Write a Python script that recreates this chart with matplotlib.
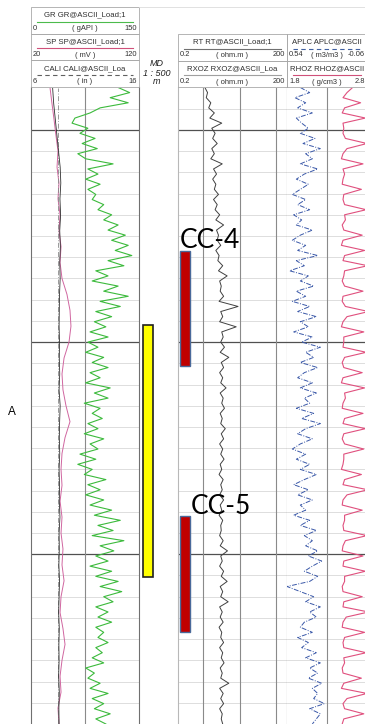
import numpy as np
import matplotlib
matplotlib.use("Agg")
import matplotlib.pyplot as plt
from matplotlib.patches import Rectangle

plt.rcParams["font.family"] = ["Liberation Sans", "DejaVu Sans"]

W, H = 365, 724  # output size in pixels

# depth window (m), MD 1:500
top_depth, base_depth = 2490.0, 2640.0
major_depths = [2500.0, 2550.0, 2600.0]
minor_step = 5.0

# track 1 curves
gr = [121, 137, 110, 135, 96, 82, 61, 57, 79, 68,
      89, 71, 92, 65, 76, 114, 79, 93, 76, 96,
      79, 90, 85, 101, 93, 112, 101, 121, 107, 131,
      112, 135, 117, 140, 107, 129, 90, 107, 85, 121,
      101, 135, 96, 124, 90, 112, 88, 104, 82, 107,
      79, 93, 76, 101, 85, 107, 82, 96, 76, 110,
      88, 107, 74, 96, 85, 99, 79, 93, 74, 101,
      82, 93, 68, 90, 65, 85, 74, 104, 79, 96,
      76, 101, 82, 112, 88, 124, 93, 114, 85, 129,
      96, 115, 90, 107, 82, 112, 90, 121, 96, 126,
      101, 114, 90, 107, 93, 112, 90, 101, 93, 107,
      90, 99, 85, 101, 76, 88, 79, 96, 82, 107,
      85, 101, 88, 110, 90, 104]
sp = [37.6, 39.4, 41.3, 43.1, 45.0, 44.1, 45.9, 45.0, 46.9, 45.9,
      47.8, 46.9, 48.7, 53.3, 56.1, 57.0, 55.2, 50.6, 48.7, 49.6,
      52.4, 56.1, 51.5, 48.7, 47.8, 48.7, 46.9, 48.7, 47.8, 49.6,
      48.7, 50.6, 47.8, 46.9, 49.6, 51.5, 48.7, 46.9, 47.8, 45.0, 45.9]
cali = [8.0, 8.1, 8.25, 8.4, 8.55, 8.7, 8.76, 8.68, 8.74, 8.66,
        8.72, 8.66, 8.70, 8.64, 8.62, 8.60, 8.64, 8.62, 8.66, 8.60,
        8.70, 8.65, 8.62, 8.66, 8.60, 8.64, 8.62, 8.68, 8.60, 8.62,
        8.58, 8.64, 8.60, 8.56, 8.62, 8.58, 8.60, 8.56, 8.62, 8.58, 8.60]
bit_size = 8.5

# track 2
rt = [1.1, 1.3, 1.2, 1.6, 1.4, 2.0, 1.5, 3.2, 1.7, 2.1,
      1.8, 2.4, 1.7, 2.0, 1.6, 3.3, 1.9, 2.3, 1.8, 2.2,
      2.0, 2.6, 1.9, 2.4, 2.1, 2.8, 2.2, 3.6, 2.3, 2.6,
      2.4, 3.0, 2.2, 2.7, 2.5, 3.4, 2.6, 4.5, 2.8, 3.1,
      2.9, 3.6, 2.7, 9.0, 3.0, 3.4, 2.8, 8.0, 3.2, 3.5,
      3.0, 3.8, 2.9, 5.0, 3.1, 3.6, 2.8, 3.4, 3.0, 4.2,
      2.9, 3.5, 3.2, 3.8, 2.9, 3.3, 3.0, 4.0, 3.1, 3.6,
      2.8, 3.4, 3.0, 3.7, 2.9, 3.2, 2.7, 3.5, 3.0, 3.3,
      2.8, 3.6, 2.9, 3.2, 2.7, 3.4, 3.0, 3.1, 2.8, 3.5,
      2.9, 4.6, 3.0, 3.3, 2.8, 3.6, 3.1, 4.5, 2.9, 3.4,
      3.0, 4.8, 2.8, 3.3, 2.9, 3.5, 2.7, 3.2, 3.0, 3.6,
      2.8, 3.4, 3.1, 3.7, 2.9, 3.3, 3.0, 5.0, 2.8, 3.5,
      3.0, 3.6, 2.8, 3.3, 3.1, 3.4]

# track 3
aplc = [0.44, 0.37, 0.48, 0.40, 0.46, 0.35, 0.47, 0.43, 0.38, 0.44,
        0.33, 0.42, 0.29, 0.40, 0.35, 0.44, 0.31, 0.41, 0.47, 0.38,
        0.44, 0.50, 0.40, 0.46, 0.37, 0.49, 0.43, 0.47, 0.35, 0.44,
        0.50, 0.40, 0.46, 0.31, 0.47, 0.41, 0.52, 0.38, 0.44, 0.34,
        0.47, 0.40, 0.50, 0.37, 0.46, 0.32, 0.44, 0.38, 0.49, 0.35,
        0.43, 0.29, 0.40, 0.34, 0.44, 0.31, 0.41, 0.46, 0.35, 0.44,
        0.32, 0.41, 0.37, 0.47, 0.34, 0.43, 0.29, 0.40, 0.46, 0.35,
        0.44, 0.50, 0.40, 0.47, 0.37, 0.44, 0.32, 0.41, 0.49, 0.38,
        0.46, 0.35, 0.44, 0.40, 0.49, 0.37, 0.44, 0.32, 0.41, 0.35,
        0.40, 0.31, 0.38, 0.28, 0.35, 0.41, 0.31, 0.37, 0.54, 0.44,
        0.34, 0.40, 0.29, 0.37, 0.32, 0.41, 0.44, 0.35, 0.46, 0.38,
        0.43, 0.32, 0.40, 0.29, 0.37, 0.31, 0.38, 0.28, 0.35, 0.31,
        0.34, 0.26, 0.37, 0.29, 0.32, 0.35]
rhoz = [2.62, 2.55, 2.50, 2.72, 2.52, 2.49, 2.78, 2.50, 2.51, 2.50,
        2.53, 2.80, 2.55, 2.50, 2.48, 2.75, 2.50, 2.52, 2.50, 2.49,
        2.73, 2.51, 2.50, 2.52, 2.79, 2.52, 2.53, 2.49, 2.51, 2.74,
        2.50, 2.48, 2.77, 2.52, 2.50, 2.81, 2.52, 2.51, 2.49, 2.52,
        2.75, 2.50, 2.49, 2.53, 2.82, 2.55, 2.50, 2.48, 2.76, 2.51,
        2.51, 2.50, 2.79, 2.52, 2.49, 2.51, 2.74, 2.50, 2.48, 2.77,
        2.52, 2.53, 2.50, 2.49, 2.75, 2.52, 2.50, 2.78, 2.51, 2.49,
        2.52, 2.76, 2.51, 2.51, 2.50, 2.48, 2.73, 2.52, 2.50, 2.81,
        2.55, 2.50, 2.49, 2.74, 2.52, 2.52, 2.50, 2.51, 2.80, 2.53,
        2.50, 2.49, 2.75, 2.51, 2.50, 2.78, 2.52, 2.52, 2.49, 2.50,
        2.74, 2.51, 2.50, 2.82, 2.54, 2.50, 2.49, 2.77, 2.52, 2.50,
        2.51, 2.79, 2.51, 2.52, 2.49, 2.50, 2.73, 2.51, 2.48, 2.80,
        2.55, 2.50, 2.52, 2.76, 2.51, 2.49]

# zone and cored intervals
zone_name = "A"
zone_top, zone_base = 2546.0, 2605.4
core_names = ["CC-4", "CC-5"]
core_tops = [2528.5, 2591.0]
core_bases = [2555.7, 2618.4]

# header text
track1_header = [("GR GR@ASCII_Load;1", "0", "( gAPI )", "150", "#4cbb4c", "-"),
                 ("SP SP@ASCII_Load;1", "20", "( mV )", "120", "#d0507a", "-"),
                 ("CALI CALI@ASCII_Loa", "6", "( in )", "16", "#606060", (0, (4, 3)))]
track2_header = [("RT RT@ASCII_Load;1", "0.2", "( ohm.m )", "200", "#707070", "-"),
                 ("RXOZ RXOZ@ASCII_Loa", "0.2", "( ohm.m )", "200", "#a0a0a0", "-")]
track3_header = [("APLC APLC@ASCII", "0.54", "( m3/m3 )", "-0.06", "#4060a0", (0, (4, 3))),
                 ("RHOZ RHOZ@ASCII", "1.8", "( g/cm3 )", "2.8", "#d0507a", "-")]

MINOR_C, MAJOR_C, BORDER_C = "#d8d8d8", "#505050", "#707070"


def rect(x0, y0, x1, y1):
    return [x0 / W, 1 - y1 / H, (x1 - x0) / W, (y1 - y0) / H]


def depths(values):
    return np.linspace(top_depth, base_depth, len(values))


def track(x0, x1, data_top=87.5):
    ax = fig.add_axes(rect(x0, data_top, x1, H))
    ax.set_ylim(base_depth, top_depth)
    ax.set_yticks(major_depths)
    ax.set_yticks(np.arange(top_depth, base_depth + 0.1, minor_step), minor=True)
    ax.grid(axis="y", which="minor", color=MINOR_C, lw=0.6)
    ax.grid(axis="y", which="major", color=MAJOR_C, lw=0.9)
    ax.set_axisbelow(True)
    ax.tick_params(which="both", length=0, labelleft=False, labelbottom=False)
    for s in ax.spines.values():
        s.set_visible(False)
    return ax


def overlay(ax, xlim, xscale="linear"):
    tw = ax.twiny()
    tw.set_xscale(xscale)
    tw.set_xlim(*xlim)
    tw.set_ylim(base_depth, top_depth)
    tw.axis("off")
    return tw


fig = plt.figure(figsize=(W / 100, H / 100), dpi=100)

# track 1: GR / SP / CALI
ax1 = track(31, 139)
ax1.set_xlim(0, 150)
ax1.axvline(75, color="#8a8a8a", lw=0.8, zorder=1)
for side in ("left", "right"):
    ax1.spines[side].set_visible(True)
    ax1.spines[side].set_color(BORDER_C)
    ax1.spines[side].set_linewidth(0.8)
ax1.plot(gr, depths(gr), color="#3cba3c", lw=0.8)
ax_sp = overlay(ax1, (20, 120))
ax_sp.plot(sp, depths(sp), color="#d066a0", lw=0.7)
ax_cali = overlay(ax1, (6, 16))
ax_cali.axvline(bit_size, color="#8a8a8a", lw=0.6, ls=(0, (6, 2, 1, 2)))
ax_cali.plot(cali, depths(cali), color="#303030", lw=0.6)

# track 2: resistivity
ax2 = track(178, 287)
ax2.set_xscale("log")
ax2.set_xlim(0.2, 200)
for v in (1, 10, 100):
    ax2.axvline(v, color="#8a8a8a", lw=0.8, zorder=1)
ax2.spines["left"].set_visible(True)
ax2.spines["left"].set_color("#b8b8b8")
ax2.spines["right"].set_visible(True)
ax2.spines["right"].set_color(BORDER_C)
ax2.spines["right"].set_linewidth(0.8)
ax2.plot(rt, depths(rt), color="#404040", lw=0.7)

# track 3: porosity / density
ax3 = track(287, 367)
ax3.set_xlim(0.54, -0.06)
ax3.axvline(0.24, color="#8a8a8a", lw=0.8, zorder=1)
ax3.plot(aplc, depths(aplc), color="#3a58a8", lw=0.7, ls=(0, (5, 1.5, 1, 1.5)))
ax_rho = overlay(ax3, (1.8, 2.8))
ax_rho.plot(rhoz, depths(rhoz), color="#e0507e", lw=0.8)

# depth track: zone bar and core intervals
axd = fig.add_axes(rect(139, 87.5, 200, H))
axd.set_xlim(139, 200)
axd.set_ylim(base_depth, top_depth)
axd.axis("off")
axd.bar(148, zone_base - zone_top, bottom=zone_top, width=9.5,
        color="#ffff00", edgecolor="#202020", lw=1.2)
core_len = [b - t for t, b in zip(core_tops, core_bases)]
axd.bar([185, 185], core_len, bottom=core_tops, width=10.5,
        color="#c00000", edgecolor="#4a6a9a", lw=1.0)
for name, top, x in zip(core_names, core_tops, (180, 191)):
    axd.text(x, top - 0.6, name, fontsize=19, family="Lato", color="black",
             ha="left", va="baseline", clip_on=False)

# header overlay in pixel coordinates
hax = fig.add_axes([0, 0, 1, 1])
hax.set_xlim(0, W)
hax.set_ylim(H, 0)
hax.axis("off")
hb = 26.7


def header(x0, x1, y0, entries):
    for k, (title, lo, unit, hi, color, ls) in enumerate(entries):
        top = y0 + k * hb
        hax.add_patch(Rectangle((x0, top), x1 - x0, hb, fill=False,
                                ec="#a8a8a8", lw=0.6))
        hax.text((x0 + x1) / 2, top + 8, title, ha="center", va="center",
                 fontsize=5.6, color="#303030")
        hax.plot([x0 + 6, x1 - 6], [top + 14.5, top + 14.5], color=color,
                 ls=ls, lw=0.8)
        hax.text(x0 + 2, top + 21, lo, ha="left", va="center", fontsize=5.4,
                 color="#303030")
        hax.text((x0 + x1) / 2, top + 21.5, unit, ha="center", va="center",
                 fontsize=5.4, color="#303030")
        hax.text(x1 - 2, top + 21, hi, ha="right", va="center", fontsize=5.4,
                 color="#303030")


header(31, 139, 7, track1_header)
header(178, 287, 34, track2_header)
header(287, 367, 34, track3_header)
hax.plot([139, W], [7, 7], color="#dcdcdc", lw=0.6)

for txt, y in (("MD", 64), ("1 : 500", 73), ("m", 82)):
    hax.text(157, y, txt, ha="center", va="center", fontsize=6.5,
             style="italic", color="#202020")

hax.text(12, 412, zone_name, ha="center", va="center", fontsize=8.5,
         color="black")

fig.savefig("out.png", dpi=100)
